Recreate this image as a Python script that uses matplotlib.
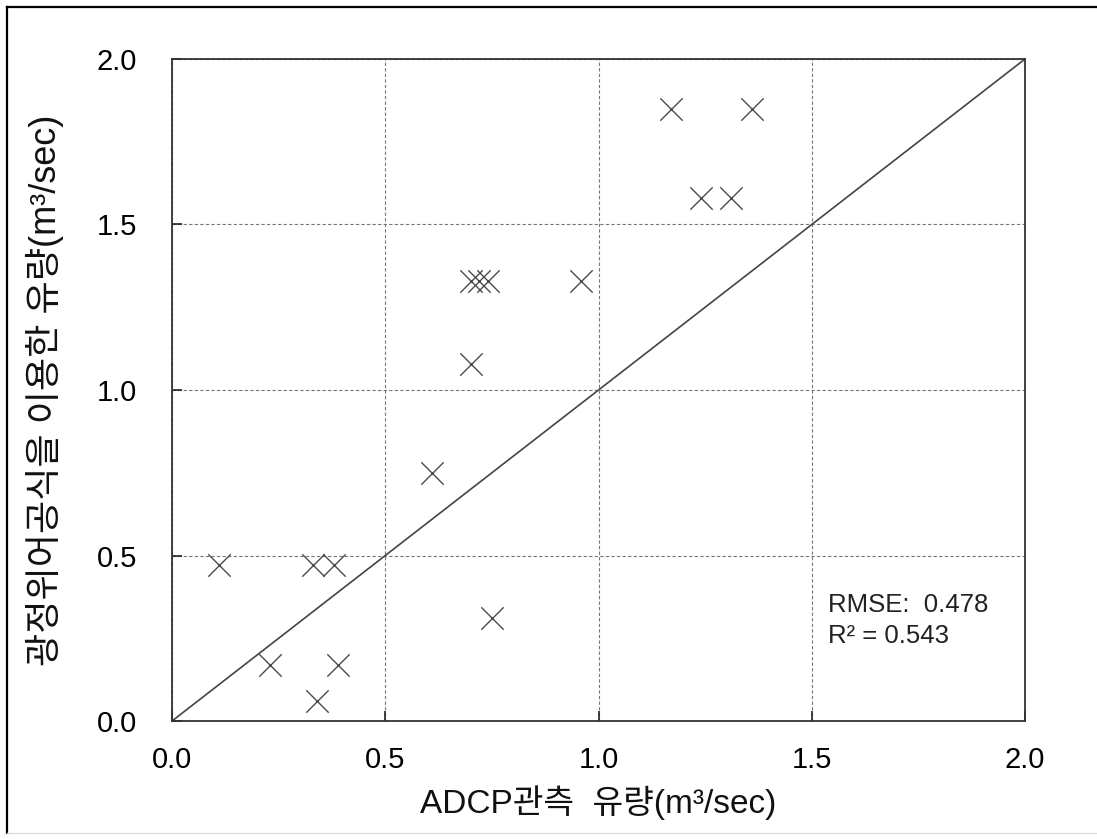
import matplotlib
matplotlib.use("Agg")
import matplotlib.pyplot as plt
from matplotlib.lines import Line2D

# ADCP measured discharge vs. discharge from the rectangular weir formula (m3/sec)
adcp_flow = [0.11, 0.33, 0.38, 0.23, 0.39, 0.34,
             0.70, 0.61, 0.75,
             0.70, 0.72, 0.74, 0.96,
             1.17, 1.36, 1.24, 1.31]
weir_flow = [0.47, 0.47, 0.47, 0.17, 0.17, 0.06,
             1.08, 0.75, 0.31,
             1.33, 1.33, 1.33, 1.33,
             1.85, 1.85, 1.58, 1.58]

axis_ticks = [0.0, 0.5, 1.0, 1.5, 2.0]
tick_labels = ["0.0", "0.5", "1.0", "1.5", "2.0"]
rmse = 0.478
r_squared = 0.543

xlabel_text = "ADCP관측  유량(m³/sec)"
ylabel_text = "광정위어공식을 이용한 유량(m³/sec)"

kr_fonts = ["Liberation Sans", "Noto Sans CJK KR", "DejaVu Sans"]

fig = plt.figure(figsize=(10.97, 8.39), dpi=100)
ax = fig.add_axes([0.1568, 0.1406, 0.7776, 0.7891])

# 1:1 reference line
ax.plot([0, 2], [0, 2], color="#444444", lw=1.2, zorder=2)

ax.scatter(adcp_flow, weir_flow, marker="x", s=260, color="#4a4a4a",
           linewidths=1.0, zorder=3)

ax.set_xlim(0, 2)
ax.set_ylim(0, 2)
ax.set_xticks(axis_ticks)
ax.set_yticks(axis_ticks)
ax.set_xticklabels(tick_labels, fontfamily="Liberation Sans", fontsize=21)
ax.set_yticklabels(tick_labels, fontfamily="Liberation Sans", fontsize=21)
ax.tick_params(axis="x", direction="in", length=7, width=1.2, pad=18, color="#222222")
ax.tick_params(axis="y", direction="in", length=7, width=1.2, pad=25, color="#222222")

ax.grid(True, linestyle=(0, (3, 2)), color="#777777", lw=0.8, zorder=1)
for s in ax.spines.values():
    s.set_linewidth(1.3)
    s.set_color("#333333")

ax.set_xlabel(xlabel_text, family=kr_fonts, fontsize=24, va="center", color="#111111")
ax.xaxis.set_label_coords(0.5, -0.124)
ax.set_ylabel(ylabel_text, family=kr_fonts, fontsize=26, va="center", color="#111111")
ax.yaxis.set_label_coords(-0.149, 0.5)

ax.text(0.769, 0.165, f"RMSE:  {rmse:.3f}", transform=ax.transAxes,
        family=["Liberation Sans", "Noto Sans CJK KR"], fontsize=18.5,
        va="baseline", ha="left", color="#222222")
ax.text(0.769, 0.118, f"R² = {r_squared:.3f}", transform=ax.transAxes,
        family=["Liberation Sans", "Noto Sans CJK KR"], fontsize=18.5,
        va="baseline", ha="left", color="#222222")

# page frame around the figure
fig.add_artist(Line2D([6.5 / 1097, 6.5 / 1097], [6 / 839, 832 / 839],
                      transform=fig.transFigure, color="black", lw=1.6))
fig.add_artist(Line2D([6.5 / 1097, 1.0], [832 / 839, 832 / 839],
                      transform=fig.transFigure, color="black", lw=1.6))
fig.add_artist(Line2D([6.5 / 1097, 1.0], [6 / 839, 6 / 839],
                      transform=fig.transFigure, color="#dddddd", lw=1.0))

fig.savefig("out.png", dpi=100)
